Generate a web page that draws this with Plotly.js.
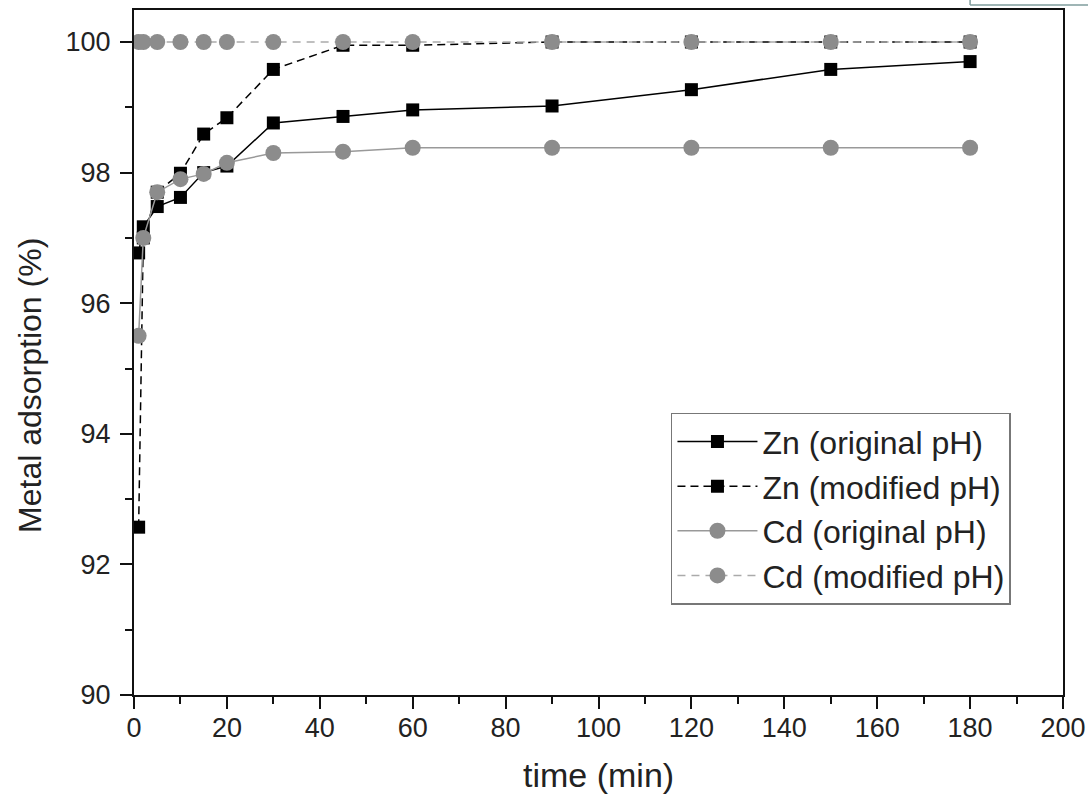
<!DOCTYPE html>
<html>
<head>
<meta charset="utf-8">
<script src="https://cdn.plot.ly/plotly-3.0.1.min.js"></script>
<style>html,body{margin:0;padding:0;background:#fff;}#chart{width:1088px;height:802px;}</style>
</head>
<body>
<div id="chart"></div>
<script>
var timeMin = [1, 2, 5, 10, 15, 20, 30, 45, 60, 90, 120, 150, 180];
var znOriginal = [96.77, 97.17, 97.48, 97.62, 98.0, 98.1, 98.76, 98.86, 98.96, 99.02, 99.27, 99.58, 99.7];
var znModified = [92.57, 97.0, 97.7, 97.99, 98.59, 98.84, 99.58, 99.95, 99.95, 100, 100, 100, 100];
var cdOriginal = [95.5, 97.0, 97.7, 97.9, 97.98, 98.15, 98.3, 98.32, 98.38, 98.38, 98.38, 98.38, 98.38];
var cdModified = [100, 100, 100, 100, 100, 100, 100, 100, 100, 100, 100, 100, 100];
var seriesNames = ['Zn (original pH)', 'Zn (modified pH)', 'Cd (original pH)', 'Cd (modified pH)'];
var xTickVals = [0, 20, 40, 60, 80, 100, 120, 140, 160, 180, 200];
var yTickVals = [90, 92, 94, 96, 98, 100];
var xTitle = 'time (min)';
var yTitle = 'Metal adsorption (%)';

var font = 'Liberation Sans, Arial, sans-serif';
var traces = [
  {x: timeMin, y: znOriginal, name: seriesNames[0], mode: 'lines+markers',
   line: {color: '#000', width: 1.5}, marker: {symbol: 'square', size: 13, color: '#000'}},
  {x: timeMin, y: znModified, name: seriesNames[1], mode: 'lines+markers',
   line: {color: '#000', width: 1.5, dash: '8px,5px'}, marker: {symbol: 'square', size: 13, color: '#000'}},
  {x: timeMin, y: cdOriginal, name: seriesNames[2], mode: 'lines+markers',
   line: {color: '#999', width: 1.5}, marker: {symbol: 'circle', size: 16, color: '#8c8c8c'}},
  {x: timeMin, y: cdModified, name: seriesNames[3], mode: 'lines+markers',
   line: {color: '#aaa', width: 1.5, dash: '8px,6px'}, marker: {symbol: 'circle', size: 16, color: '#8c8c8c'}}
];

var layout = {
  width: 1088, height: 802,
  margin: {l: 134, r: 25, t: 10, b: 107},
  paper_bgcolor: '#fff', plot_bgcolor: '#fff',
  font: {family: font, color: '#222'},
  showlegend: true,
  xaxis: {
    range: [0, 200], tickvals: xTickVals, ticks: 'outside', ticklen: 12, tickwidth: 2,
    tickcolor: '#111', showline: true, linecolor: '#111', linewidth: 2, mirror: true,
    showgrid: false, zeroline: false, tickfont: {size: 27, family: font, color: '#222'},
    ticklabelstandoff: -4,
    minor: {dtick: 10, tick0: 0, ticks: 'outside', ticklen: 7, tickwidth: 2, tickcolor: '#111', showgrid: false},
    automargin: false
  },
  yaxis: {
    range: [90, 100.49], tickvals: yTickVals, ticks: 'outside', ticklen: 12, tickwidth: 2,
    tickcolor: '#111', showline: true, linecolor: '#111', linewidth: 2, mirror: true,
    showgrid: false, zeroline: false, tickfont: {size: 27, family: font, color: '#222'},
    ticklabelstandoff: 4,
    minor: {dtick: 1, tick0: 90, ticks: 'outside', ticklen: 7, tickwidth: 2, tickcolor: '#111', showgrid: false},
    automargin: false
  },
  legend: {
    x: 0.578, y: 0.412, xanchor: 'left', yanchor: 'top',
    bgcolor: '#fff', bordercolor: '#777', borderwidth: 1.5,
    font: {size: 32, family: font, color: '#222'},
    itemwidth: 80, tracegroupgap: 0
  },
  annotations: [
    {text: xTitle, xref: 'paper', yref: 'paper', x: 0.5, y: -0.1168, xanchor: 'center', yanchor: 'middle',
     showarrow: false, font: {size: 34, family: font, color: '#222'}},
    {text: yTitle, xref: 'paper', yref: 'paper', x: -0.112, y: 0.4526, xanchor: 'center', yanchor: 'middle',
     textangle: -90, showarrow: false, font: {size: 32, family: font, color: '#222'}}
  ],
  shapes: [
    {type: 'line', xref: 'paper', yref: 'paper', x0: 0.9, x1: 1.2, y0: 1.0073, y1: 1.0073,
     line: {color: '#7f9c9c', width: 1.5}},
    {type: 'line', xref: 'paper', yref: 'paper', x0: 0.9, x1: 0.9, y0: 1.0073, y1: 1.02,
     line: {color: '#7f9c9c', width: 1.5}}
  ]
};

Plotly.newPlot('chart', traces, layout, {displayModeBar: false, staticPlot: true});
</script>
</body>
</html>
